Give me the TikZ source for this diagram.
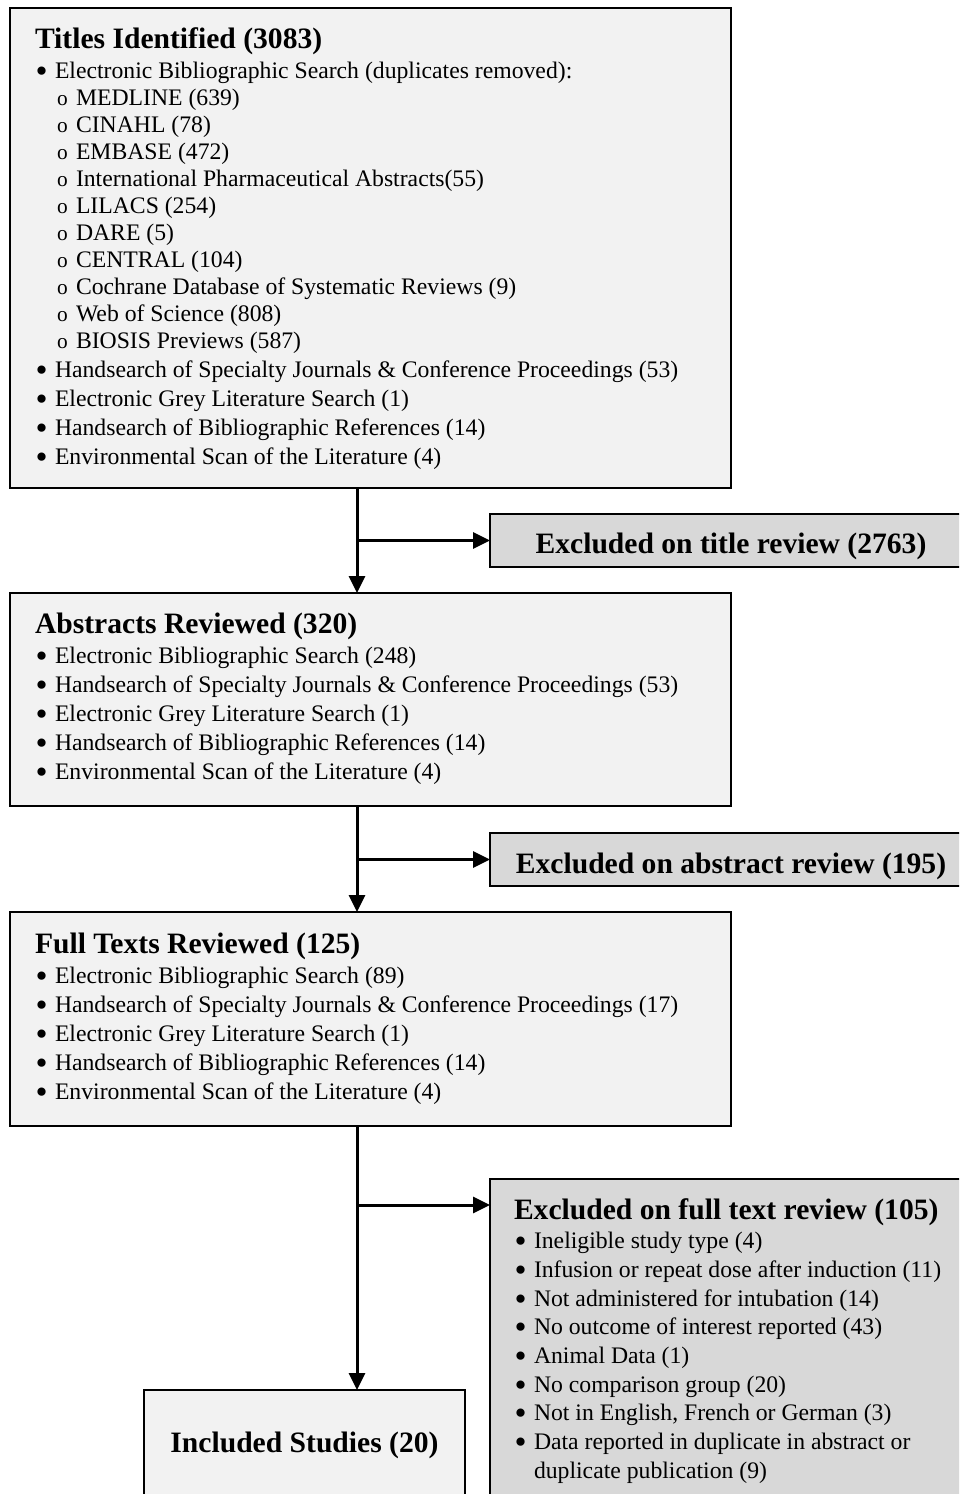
\documentclass[tikz,border=0pt]{standalone}
\usepackage{graphicx}
\usepackage{fontspec}
\setmainfont{Liberation Serif}
\usetikzlibrary{arrows.meta}
\definecolor{boxfill}{HTML}{F2F2F2}
\definecolor{exfill}{HTML}{D8D8D8}
\newcommand\hd[1]{{\fontsize{29.6}{30}\selectfont\bfseries #1\par}\vspace{1pt}}
\newcommand\bi[1]{\makebox[20pt][l]{\hspace{0.5pt}\smash{\raisebox{-4pt}{\scalebox{1.45}{•}}}}#1\par}
\newcommand\si[1]{\vspace{-2pt}\makebox[41pt][l]{\hspace{22pt}\scalebox{0.9}{o}}#1\par}
\newcommand\lst[3]{\parbox[t]{#1}{\fontsize{23.7}{#2}\selectfont\lineskiplimit=-100pt\parindent=0pt #3}}
\begin{document}
\begin{tikzpicture}[x=1pt,y=-1pt,
  mainbox/.style={draw, line width=2pt, fill=boxfill, anchor=north west, inner sep=0pt, outer sep=0pt},
  exbox/.style={draw, line width=2pt, fill=exfill, anchor=north west, inner sep=0pt, outer sep=0pt,
    font=\fontsize{29.6}{34}\selectfont\bfseries},
  txt/.style={anchor=base west, inner sep=0pt, outer sep=0pt},
  conn/.style={line width=3pt},
  arr/.style={line width=3pt, -{Triangle[length=17pt,width=16pt]}}]
\useasboundingbox (0,0) rectangle (959,1494);
\clip (0,0) rectangle (959,1494);
% boxes
\node[mainbox, minimum width=721pt, minimum height=480pt] (titles) at (10,8) {};
\node[mainbox, minimum width=721pt, minimum height=213pt] (abstracts) at (10,593) {};
\node[mainbox, minimum width=721pt, minimum height=214pt] (fulltexts) at (10,912) {};
\node[exbox, minimum width=482pt, minimum height=53pt, text height=25pt, text depth=0pt] (ex1) at (490,514) {Excluded on title review (2763)};
\node[exbox, minimum width=482pt, minimum height=53pt, text height=27pt, text depth=0pt] (ex2) at (490,833) {Excluded on abstract review (195)};
\node[exbox, minimum width=482pt, minimum height=340pt] (ex3) at (490,1179) {};
\node[mainbox, minimum width=321pt, minimum height=110pt, font=\fontsize{29.6}{34}\selectfont\bfseries] (incl) at (144,1390) {Included Studies (20)};
% texts
\node[txt] (titlesT) at (35,48) {\lst{690pt}{29}{%
  \hd{Titles Identified (3083)}%
  \bi{Electronic Bibliographic Search (duplicates removed):}%
  \si{MEDLINE (639)}%
  \si{CINAHL (78)}%
  \si{EMBASE (472)}%
  \si{International Pharmaceutical Abstracts(55)}%
  \si{LILACS (254)}%
  \si{DARE (5)}%
  \si{CENTRAL (104)}%
  \si{Cochrane Database of Systematic Reviews (9)}%
  \si{Web of Science (808)}%
  \si{BIOSIS Previews (587)}%
  \bi{Handsearch of Specialty Journals \& Conference Proceedings (53)}%
  \bi{Electronic Grey Literature Search (1)}%
  \bi{Handsearch of Bibliographic References (14)}%
  \bi{Environmental Scan of the Literature (4)}}};
\node[txt] (abstractsT) at (35,633) {\lst{690pt}{29}{%
  \hd{Abstracts Reviewed (320)}%
  \bi{Electronic Bibliographic Search (248)}%
  \bi{Handsearch of Specialty Journals \& Conference Proceedings (53)}%
  \bi{Electronic Grey Literature Search (1)}%
  \bi{Handsearch of Bibliographic References (14)}%
  \bi{Environmental Scan of the Literature (4)}}};
\node[txt] (fulltextsT) at (35,953) {\lst{690pt}{29}{%
  \hd{Full Texts Reviewed (125)}%
  \bi{Electronic Bibliographic Search (89)}%
  \bi{Handsearch of Specialty Journals \& Conference Proceedings (17)}%
  \bi{Electronic Grey Literature Search (1)}%
  \bi{Handsearch of Bibliographic References (14)}%
  \bi{Environmental Scan of the Literature (4)}}};
\node[txt] (ex3T) at (514,1219) {\lst{440pt}{28.7}{%
  \hd{Excluded on full text review (105)}%
  \bi{Ineligible study type (4)}%
  \bi{Infusion or repeat dose after induction (11)}%
  \bi{Not administered for intubation (14)}%
  \bi{No outcome of interest reported (43)}%
  \bi{Animal Data (1)}%
  \bi{No comparison group (20)}%
  \bi{Not in English, French or German (3)}%
  \bi{Data reported in duplicate in abstract or}%
  \hspace*{20pt}duplicate publication (9)\par}};
% connectors
\coordinate (j1) at (357,540.5);
\coordinate (j2) at (357,859.5);
\coordinate (j3) at (357,1205);
\draw[arr] (titles.south -| j1) -- (abstracts.north -| j1);
\draw[arr] (j1) -- (ex1.west);
\draw[arr] (abstracts.south -| j2) -- (fulltexts.north -| j2);
\draw[arr] (j2) -- (ex2.west);
\draw[conn] (fulltexts.south -| j3) -- (j3);
\draw[arr] (j3) -- (j3 -| ex3.west);
\draw[arr] (j3) -- (incl.north -| j3);
\end{tikzpicture}
\end{document}
